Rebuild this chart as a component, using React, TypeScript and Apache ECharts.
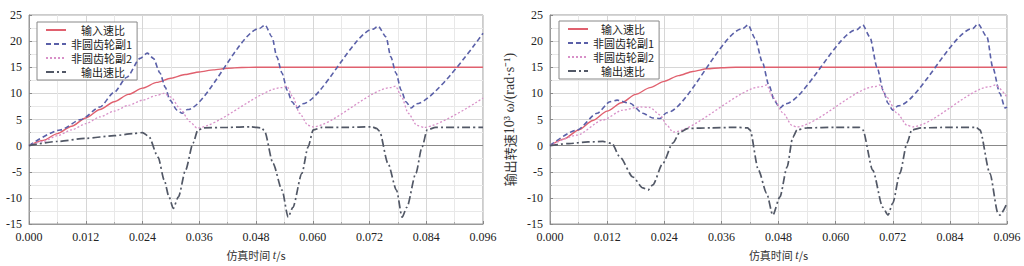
import React, { useEffect, useRef } from 'react';
import * as echarts from 'echarts';

const seriesNames = ['输入速比', '非圆齿轮副1', '非圆齿轮副2', '输出速比'];
const xMax = 0.096;
const xStep = 0.012;
const yMin = -15;
const yMax = 25;
const yStep = 5;

// Left chart: [time (s), value]
const leftInput = [[0,0],[0.003,1.0],[0.006,2.3],[0.009,3.7],[0.012,5.3],[0.015,6.9],[0.018,8.4],[0.021,9.8],[0.024,11.0],[0.027,12.1],[0.030,12.9],[0.033,13.6],[0.036,14.1],[0.039,14.5],[0.042,14.8],[0.045,14.95],[0.048,15],[0.096,15]];
const leftGear1 = [[0,0],[0.0066,3.0],[0.011,5.0],[0.015,7.4],[0.018,10.2],[0.0207,13.1],[0.0235,16.7],[0.025,17.7],[0.0263,16.7],[0.0277,13.9],[0.0288,11.2],[0.0298,8.7],[0.0313,6.8],[0.0324,6.2],[0.0335,6.9],[0.0487,22.4],[0.0499,23.1],[0.0514,20.8],[0.0524,17.0],[0.0535,13.9],[0.0546,10.6],[0.0556,8.4],[0.0567,7.2],[0.0578,8.0],[0.0728,22.3],[0.0738,22.9],[0.0755,20.8],[0.0765,17.0],[0.0776,13.9],[0.0787,10.6],[0.0797,8.4],[0.0808,7.2],[0.0819,8.0],[0.096,21.5]];
const leftGear2 = [[0,0],[0.003,0.8],[0.006,1.9],[0.009,3.0],[0.012,4.2],[0.015,5.5],[0.018,6.6],[0.021,7.7],[0.024,8.7],[0.027,9.6],[0.0285,10.0],[0.030,9.3],[0.032,7.0],[0.034,4.6],[0.0355,3.4],[0.0535,11.1],[0.0545,11.4],[0.0558,9.3],[0.0572,6.2],[0.059,3.9],[0.060,3.6],[0.0765,11.1],[0.0775,11.4],[0.0788,9.3],[0.0802,6.2],[0.082,3.9],[0.0835,3.5],[0.096,9.1]];
const leftOutput = [[0,0],[0.006,0.8],[0.012,1.4],[0.018,1.9],[0.022,2.3],[0.024,2.5],[0.0253,1.8],[0.0273,-2.2],[0.0286,-6.6],[0.0296,-9.8],[0.0305,-12.0],[0.0316,-9.8],[0.0331,-4.7],[0.0347,0.5],[0.0357,3.0],[0.037,3.4],[0.042,3.5],[0.047,3.6],[0.0492,3.4],[0.0498,2.8],[0.0516,-3.4],[0.0535,-8.5],[0.0548,-13.7],[0.0558,-11.8],[0.0577,-5.3],[0.059,-0.3],[0.0601,3.0],[0.062,3.5],[0.067,3.5],[0.0725,3.6],[0.0735,3.3],[0.0741,2.8],[0.0759,-3.4],[0.0777,-8.5],[0.0789,-13.7],[0.0799,-11.8],[0.0818,-5.3],[0.0831,-0.3],[0.0842,3.0],[0.086,3.5],[0.091,3.5],[0.096,3.5]];

// Right chart: [time (s), value]
const rightInput = [[0,0],[0.003,1.3],[0.006,3.0],[0.009,4.8],[0.012,6.6],[0.015,8.2],[0.018,9.8],[0.021,11.1],[0.024,12.3],[0.027,13.4],[0.030,14.2],[0.033,14.7],[0.036,14.9],[0.039,15],[0.096,15]];
const rightGear1 = [[0,0],[0.0057,3.0],[0.0099,6.2],[0.0126,8.4],[0.0141,8.7],[0.0168,8.1],[0.0195,6.2],[0.0216,5.3],[0.0231,5.2],[0.0245,6.3],[0.0405,22.4],[0.0416,23.1],[0.0431,20.5],[0.0446,16.0],[0.046,11.5],[0.0472,8.5],[0.0483,7.2],[0.0494,8.0],[0.0645,22.2],[0.0657,23.1],[0.0672,20.8],[0.0687,15.0],[0.070,10.6],[0.071,8.1],[0.072,6.8],[0.0731,7.6],[0.0888,22.4],[0.0899,23.3],[0.0918,20.8],[0.093,15.0],[0.0945,10.0],[0.0956,7.2],[0.096,7.4]];
const rightGear2 = [[0,0],[0.0057,2.0],[0.0111,4.9],[0.0153,6.8],[0.0189,7.4],[0.021,7.3],[0.0231,5.9],[0.0246,3.9],[0.0258,2.6],[0.0445,11.3],[0.0455,11.6],[0.0468,9.3],[0.049,6.2],[0.0508,3.9],[0.0518,3.6],[0.0683,11.3],[0.0693,11.6],[0.0707,9.3],[0.0729,6.2],[0.075,3.9],[0.0762,3.6],[0.0925,11.3],[0.0935,11.6],[0.096,9.3]];
const rightOutput = [[0,0],[0.004,0.4],[0.008,0.7],[0.0111,0.8],[0.013,0.4],[0.0147,-2.2],[0.0174,-6.0],[0.0195,-8.1],[0.0206,-8.5],[0.0216,-7.5],[0.0237,-3.4],[0.0258,0.5],[0.0273,2.6],[0.029,3.3],[0.034,3.4],[0.039,3.5],[0.0415,3.4],[0.042,3.0],[0.0438,-4.7],[0.0455,-9.1],[0.0468,-13.3],[0.0483,-9.8],[0.0498,-4.1],[0.051,1.6],[0.0519,3.0],[0.054,3.4],[0.060,3.5],[0.065,3.5],[0.0657,3.0],[0.0678,-4.7],[0.0699,-11.8],[0.071,-13.3],[0.072,-11.0],[0.0735,-5.3],[0.075,0.5],[0.076,3.0],[0.078,3.4],[0.084,3.5],[0.0895,3.5],[0.0903,3.0],[0.0924,-5.3],[0.0941,-12.9],[0.0945,-13.3],[0.096,-11.0]];

const xName = '仿真时间 {i|t}/s';
const rightYName = '输出转速{s|10³ ω/(rad·s⁻¹)}';

const styles = [
  { color: '#e0606e', type: 'solid', width: 1.4 },
  { color: '#5a60a8', type: [5, 3], width: 1.6 },
  { color: '#d890c8', type: [2, 2], width: 1.3 },
  { color: '#525866', type: [8, 3, 2, 3], width: 1.7 },
];

const serifFont = 'Liberation Serif';
const cjkFont = 'Noto Sans CJK SC';

function makeXAxis(gridIndex: number) {
  return {
    type: 'value',
    gridIndex,
    min: 0,
    max: xMax,
    interval: xStep,
    axisLabel: {
      formatter: (v: number) => v.toFixed(3),
      fontFamily: serifFont,
      fontSize: 12,
      color: '#222',
      margin: 7,
    },
    axisLine: { show: true, onZero: false, lineStyle: { color: '#999' } },
    axisTick: { show: true, inside: true, length: 3, lineStyle: { color: '#888' } },
    minorTick: { show: true, splitNumber: 2, length: 2, lineStyle: { color: '#aaa' } },
    splitLine: { show: true, lineStyle: { color: '#d6d6d6', width: 1 } },
    minorSplitLine: { show: true, lineStyle: { color: '#e8e8e8', width: 1 } },
    name: xName,
    nameLocation: 'middle',
    nameGap: 25,
    nameTextStyle: {
      fontSize: 11,
      color: '#333',
      fontFamily: cjkFont,
      rich: { i: { fontStyle: 'italic', fontFamily: serifFont, fontSize: 12, color: '#333' } },
    },
  };
}

function makeYAxis(gridIndex: number, name?: string) {
  return {
    type: 'value',
    gridIndex,
    min: yMin,
    max: yMax,
    interval: yStep,
    axisLabel: { fontFamily: serifFont, fontSize: 12, color: '#222', margin: 7 },
    axisLine: { show: true, lineStyle: { color: '#999' } },
    axisTick: { show: true, inside: true, length: 3, lineStyle: { color: '#888' } },
    minorTick: { show: true, splitNumber: 2, length: 2, lineStyle: { color: '#aaa' } },
    splitLine: { show: true, lineStyle: { color: '#d6d6d6', width: 1 } },
    minorSplitLine: { show: true, lineStyle: { color: '#e8e8e8', width: 1 } },
    name: name || '',
    nameLocation: 'middle',
    nameRotate: 90,
    nameGap: 34,
    nameTextStyle: {
      fontSize: 13,
      color: '#333',
      fontFamily: cjkFont,
      rich: { s: { fontFamily: serifFont, fontSize: 14, color: '#333' } },
    },
  };
}

function makeSeries(data: number[][][], axisIndex: number) {
  return data.map((d, i) => ({
    name: seriesNames[i],
    type: 'line',
    xAxisIndex: axisIndex,
    yAxisIndex: axisIndex,
    data: d,
    symbol: 'none',
    smooth: 0.25,
    smoothMonotone: 'x',
    lineStyle: { color: styles[i].color, type: styles[i].type, width: styles[i].width },
    itemStyle: { color: styles[i].color },
    z: 3 + i,
    ...(i === 3
      ? {
          markLine: {
            silent: true,
            symbol: 'none',
            label: { show: false },
            lineStyle: { color: '#888', type: 'solid', width: 1 },
            data: [{ yAxis: 0 }],
            z: 2,
          },
        }
      : {}),
  }));
}

function makeLegend(left: number, top: number, indent: number) {
  return {
    left,
    top,
    orient: 'vertical',
    data: seriesNames,
    itemWidth: 20,
    itemHeight: 12,
    itemGap: 2,
    padding: [2, 5, 2, 8],
    backgroundColor: '#fff',
    borderColor: '#888',
    borderWidth: 1,
    borderRadius: 0,
    selectedMode: false,
    itemStyle: { opacity: 0, color: 'transparent', borderColor: 'transparent', borderWidth: 0 },
    formatter: (name: string) => (name.length === 4 ? `{p|${name}}` : name),
    textStyle: {
      fontSize: 11,
      lineHeight: 12,
      color: '#222',
      fontFamily: cjkFont,
      rich: {
        p: { fontSize: 11, lineHeight: 12, color: '#222', fontFamily: cjkFont, padding: [0, 0, 0, indent] },
      },
    },
  };
}

export default function App() {
  const ref = useRef<HTMLDivElement>(null);
  useEffect(() => {
    if (!ref.current) return;
    const chart = echarts.init(ref.current, undefined, { renderer: 'svg' });
    chart.setOption({
      animation: false,
      backgroundColor: '#fff',
      grid: [
        { left: 29, top: 15, width: 454, height: 209, show: true, borderColor: '#999', borderWidth: 1 },
        { left: 550, top: 15, width: 457, height: 209, show: true, borderColor: '#999', borderWidth: 1 },
      ],
      xAxis: [makeXAxis(0), makeXAxis(1)],
      yAxis: [makeYAxis(0), makeYAxis(1, rightYName)],
      legend: [makeLegend(37, 22, 10), makeLegend(559, 21, 8)],
      series: [
        ...makeSeries([leftInput, leftGear1, leftGear2, leftOutput], 0),
        ...makeSeries([rightInput, rightGear1, rightGear2, rightOutput], 1),
      ],
    });
    return () => chart.dispose();
  }, []);
  return (
    <div
      ref={ref}
      style={{ position: 'fixed', left: 0, top: 0, width: 1024, height: 266, background: '#fff' }}
    />
  );
}
